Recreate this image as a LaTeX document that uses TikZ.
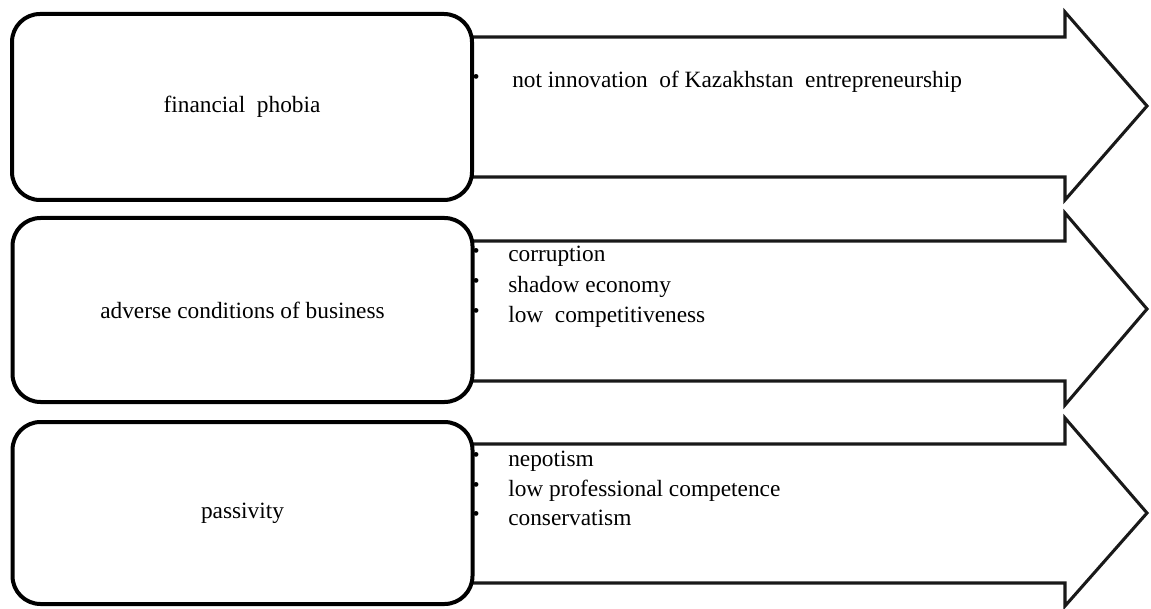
\documentclass[tikz,border=0pt]{standalone}
\usepackage{fontspec}
\setmainfont{Liberation Serif}
\begin{document}
\begin{tikzpicture}[x=0.75pt,y=-0.75pt,
  bigarrow/.style={draw=black!90, line width=2.3pt, fill=white, line join=miter},
  causebox/.style={draw=black, line width=3pt, fill=white, rounded corners=21pt,
    rectangle, minimum width=345pt, outer sep=0pt, inner sep=0pt,
    font=\fontsize{17.5}{21}\selectfont},
  itemtext/.style={anchor=base west, inner sep=0pt, font=\fontsize{17.5}{21}\selectfont},
  bul/.style={inner sep=0pt, font=\fontsize{15}{16}\selectfont}]
\useasboundingbox (0,0) rectangle (1151,609);
% arrows
\draw[bigarrow] (472,37) -- (1065,37) -- (1065,12) -- (1147,106) -- (1065,200) -- (1065,177) -- (472,177) -- cycle;
\draw[bigarrow] (472,241) -- (1065,241) -- (1065,213) -- (1147,309) -- (1065,405) -- (1065,381) -- (472,381) -- cycle;
\draw[bigarrow] (472,444) -- (1065,444) -- (1065,418) -- (1147,513) -- (1065,606) -- (1065,583) -- (472,583) -- cycle;
% boxes
\node[causebox, minimum height=139.5pt] (b1) at (242,107) {financial\ \ phobia};
\node[causebox, minimum height=138pt] (b2) at (242.5,310) {adverse conditions of business};
\node[causebox, minimum height=136.5pt] (b3) at (242.5,513) {passivity};
% arrow 1 text
\node[bul] (d11) at (476,79) {•};
\node[itemtext] (t11) at (512,88) {not innovation\ \ of Kazakhstan\ \ entrepreneurship};
% arrow 2 text
\node[bul] (d21) at (476,253) {•};
\node[bul] (d22) at (476,283) {•};
\node[bul] (d23) at (476,313) {•};
\node[itemtext] (t21) at (508,262) {corruption};
\node[itemtext] (t22) at (508,292) {shadow economy};
\node[itemtext] (t23) at (508,322) {low\ \ competitiveness};
% arrow 3 text
\node[bul] (d31) at (476,457) {•};
\node[bul] (d32) at (476,487) {•};
\node[bul] (d33) at (476,516) {•};
\node[itemtext] (t31) at (508,466) {nepotism};
\node[itemtext] (t32) at (508,496) {low professional competence};
\node[itemtext] (t33) at (508,525) {conservatism};
\end{tikzpicture}
\end{document}
